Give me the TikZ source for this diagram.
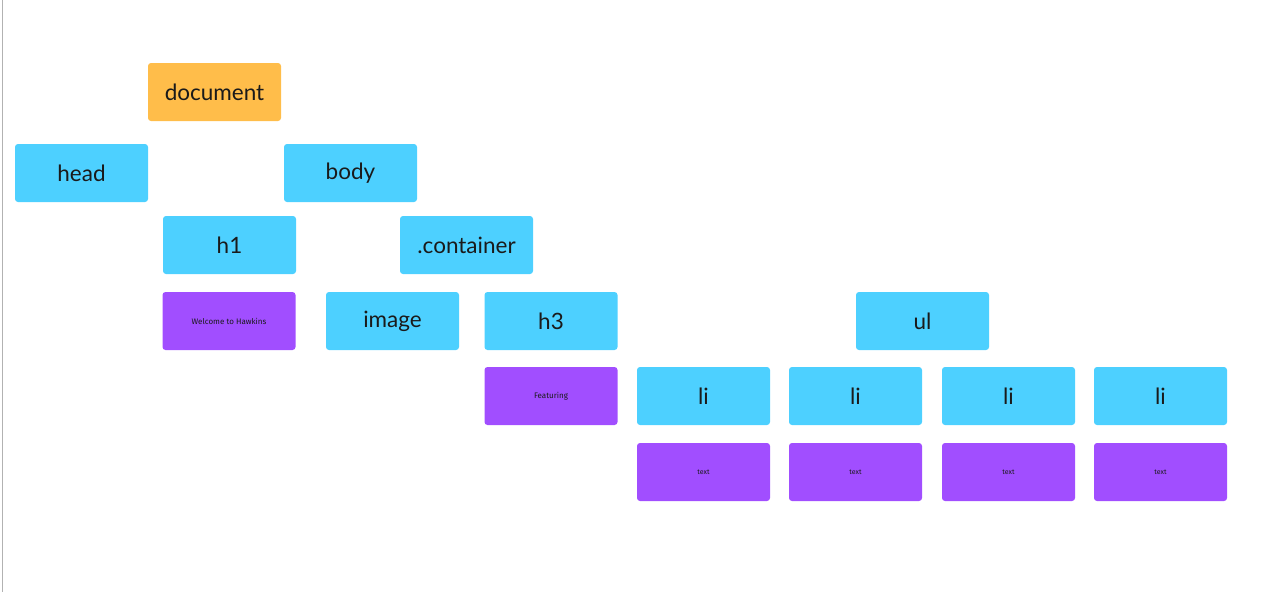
\documentclass[tikz,border=0pt]{standalone}
\usepackage{fontspec}
\setmainfont{Lato}
\newfontfamily\smallfont{Fira Sans}
\definecolor{nodeblue}{HTML}{4DD0FF}
\definecolor{nodeorange}{HTML}{FFBD4A}
\definecolor{nodepurple}{HTML}{A14EFF}
\definecolor{inktext}{HTML}{1A1A1A}
\begin{document}
\begin{tikzpicture}[x=1pt,y=-1pt,
  box/.style={rectangle, rounded corners=3pt, minimum width=133pt, minimum height=58pt, inner sep=0pt, text=inktext, font=\fontsize{22.5}{26}\selectfont},
  tagbox/.style={box, fill=nodeblue},
  rootbox/.style={box, fill=nodeorange},
  textbox/.style={box, fill=nodepurple, font=\smallfont\fontsize{8}{9.5}\selectfont},
  tinybox/.style={box, fill=nodepurple, font=\smallfont\fontsize{7}{8.5}\selectfont}]
\useasboundingbox (0,0) rectangle (1281,592);
\draw[gray!60, line width=1pt] (2.5,0) -- (2.5,592);
\node[rootbox] (document) at (214.5,92) {document};
\node[tagbox] (head) at (81.5,173) {head};
\node[tagbox] (body) at (350.5,173) {body};
\node[tagbox] (h1) at (229.5,245) {h1};
\node[tagbox] (container) at (466.5,245) {.container};
\node[textbox] (welcome) at (229,321) {Welcome to Hawkins};
\node[tagbox] (image) at (392.5,321) {image};
\node[tagbox] (h3) at (551,321) {h3};
\node[tagbox] (ul) at (922.5,321) {ul};
\node[textbox] (featuring) at (551,396) {Featuring};
\node[tagbox] (li1) at (703.5,396) {li};
\node[tagbox] (li2) at (855.5,396) {li};
\node[tagbox] (li3) at (1008.5,396) {li};
\node[tagbox] (li4) at (1160.5,396) {li};
\node[tinybox] (t1) at (703.5,472) {text};
\node[tinybox] (t2) at (855.5,472) {text};
\node[tinybox] (t3) at (1008.5,472) {text};
\node[tinybox] (t4) at (1160.5,472) {text};
\end{tikzpicture}
\end{document}
